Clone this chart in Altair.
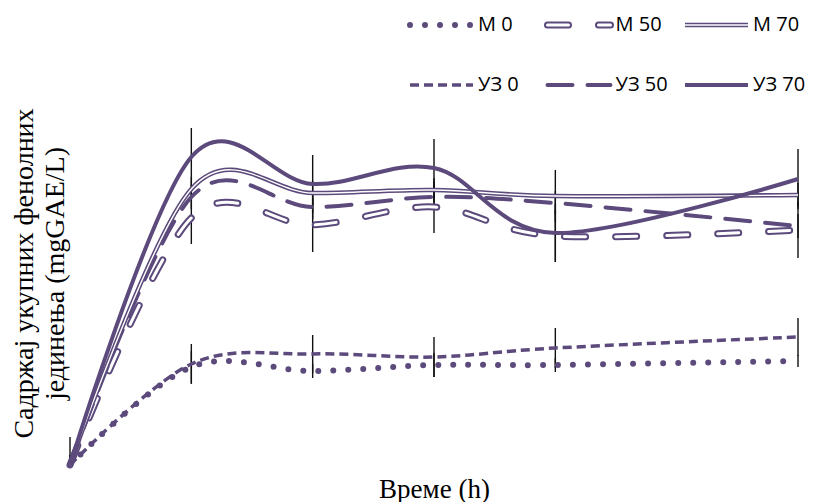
import altair as alt
import pandas as pd

# ---- data ----
times = [0, 1, 2, 3, 4, 6]
series_names = ["М 0", "М 50", "М 70", "УЗ 0", "УЗ 50", "УЗ 70"]

m0 = [0, 98, 94, 100, 100, 104]
m50 = [0, 247, 240, 258, 229, 235]
m70 = [0, 276, 272, 275, 269, 270]
uz0 = [0, 101, 111, 108, 117, 128]
uz50 = [0, 268, 258, 268, 262, 239]
uz70 = [0, 308, 281, 297, 232, 286]

err_m0 = [10, 16, 7, 12, 7, 6]
err_m50 = [10, 26, 27, 26, 26, 28]
err_m70 = [10, 12, 12, 12, 26, 12]
err_uz0 = [10, 20, 19, 20, 20, 19]
err_uz50 = [10, 12, 12, 12, 12, 12]
err_uz70 = [28, 29, 29, 29, 29, 30]

values = [m0, m50, m70, uz0, uz50, uz70]
errors = [err_m0, err_m50, err_m70, err_uz0, err_uz50, err_uz70]

rows = []
for name, vals, errs in zip(series_names, values, errors):
    for t, v, e in zip(times, vals, errs):
        rows.append({"series": name, "t": t, "v": v, "err": e})
df = pd.DataFrame(rows)

leg = pd.DataFrame({
    "series": series_names,
    "col": [0, 1, 2, 0, 1, 2],
    "row": [0, 0, 0, 1, 1, 1],
})

purple = "#5b4a7b"
styles = {
    "М 0": [dict(color=purple, strokeWidth=6, strokeDash=[0, 15], strokeCap="round")],
    "М 50": [dict(color=purple, strokeWidth=7, strokeDash=[21, 30], strokeCap="round"),
             dict(color="white", strokeWidth=3, strokeDash=[21, 30], strokeCap="round")],
    "М 70": [dict(color=purple, strokeWidth=4.5),
             dict(color="white", strokeWidth=1.4)],
    "УЗ 0": [dict(color=purple, strokeWidth=3.5, strokeDash=[9, 5], strokeCap="butt")],
    "УЗ 50": [dict(color=purple, strokeWidth=4, strokeDash=[25, 15], strokeCap="round")],
    "УЗ 70": [dict(color=purple, strokeWidth=4)],
}

xs = alt.Scale(domain=[0, 6], nice=False, zero=False)
ys = alt.Scale(domain=[0, 350], nice=False, clamp=True)

x_axis = alt.Axis(
    title="Време (h)", domain=False, ticks=False, labels=False, grid=False,
    titleFont="Liberation Serif", titleFontSize=27, titleFontWeight="normal",
    titleColor="black", titleX=364, titleY=32, titleBaseline="alphabetic",
)
y_axis = alt.Axis(
    title=["Садржај укупних фенолних", "јединења (mgGAE/L)"],
    domain=False, ticks=False, labels=False, grid=False,
    titleFont="Liberation Serif", titleFontSize=28, titleFontWeight="normal",
    titleColor="black", titleX=-38, titleY=158, titleBaseline="alphabetic",
    titleLineHeight=31, titleAngle=270,
)

base = alt.Chart(df)

# error bars (carry the axis titles)
err_layer = base.transform_calculate(
    lo="datum.v - datum.err", hi="datum.v + datum.err"
).mark_rule(color="#111111", strokeWidth=1.4).encode(
    x=alt.X("t:Q", scale=xs, axis=x_axis),
    y=alt.Y("lo:Q", scale=ys, axis=y_axis),
    y2="hi:Q",
)

layers = [err_layer]
order = ["М 0", "УЗ 0", "М 50", "УЗ 50", "М 70", "УЗ 70"]
for name in order:
    for st in styles[name]:
        layers.append(
            base.transform_filter(alt.datum.series == name)
            .mark_line(interpolate="cardinal", tension=0, **st)
            .encode(
                x=alt.X("t:Q", scale=xs, axis=None),
                y=alt.Y("v:Q", scale=ys, axis=None),
            )
        )

# custom legend (two rows of three)
lx = alt.Scale(domain=[0, 3], range=[340, 752.5], nice=False, zero=False)
ly = alt.Scale(domain=[0, 1], range=[-90, -30], nice=False, zero=False)
legbase = alt.Chart(leg).transform_calculate(
    x0="datum.col", x1="datum.col + 0.458", xt="datum.col + 0.495"
)
for name in series_names:
    for st in styles[name]:
        layers.append(
            legbase.transform_filter(alt.datum.series == name)
            .mark_rule(**st)
            .encode(
                x=alt.X("x0:Q", scale=lx, axis=None),
                x2="x1:Q",
                y=alt.Y("row:Q", scale=ly, axis=None),
            )
        )
layers.append(
    legbase.mark_text(align="left", baseline="middle", font="Open Sans",
                      fontSize=20, color="black")
    .encode(
        x=alt.X("xt:Q", scale=lx, axis=None),
        y=alt.Y("row:Q", scale=ly, axis=None),
        text="series:N",
    )
)

chart = alt.layer(*layers).resolve_scale(x="independent", y="independent").properties(
    width=728, height=350,
    autosize=alt.AutoSizeParams(type="none"),
    padding={"left": 62, "top": 107, "right": 9, "bottom": 37},
    background="white",
).configure_view(stroke=None)

chart.save("out.html", embed_options={"renderer": "svg", "actions": False})
